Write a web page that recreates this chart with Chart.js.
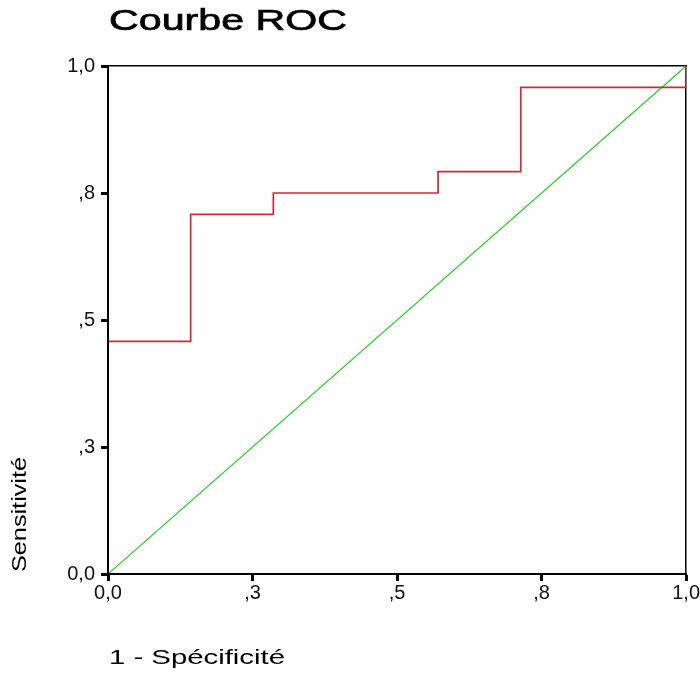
<!DOCTYPE html>
<html><head><meta charset="utf-8">
<script src="https://cdn.jsdelivr.net/npm/chart.js@4.4.0/dist/chart.umd.min.js"></script>
<style>html,body{margin:0;padding:0;background:#fff;}#wrap{width:700px;height:674px;}</style>
</head><body><div id="wrap"><canvas id="c" width="700" height="674"></canvas></div>
<script>
const chartTitle = 'Courbe ROC';
const xAxisTitle = '1 - Spécificité';
const yAxisTitle = 'Sensitivité';
const tickValues = [0, 0.25, 0.5, 0.75, 1];
const tickLabels = ['0,0', ',3', ',5', ',8', '1,0'];
const rocFpr = [0, 0, 0.143, 0.286, 0.571, 0.714, 1];
const rocTpr = [0, 0.458, 0.708, 0.75, 0.792, 0.958, 1];
const refFpr = [0, 1];
const refTpr = [0, 1];

const FONT = "'Liberation Sans', Arial, sans-serif";
const toPts = (xs, ys) => xs.map((x, i) => ({x: x, y: ys[i]}));
const tickCb = (v) => { const i = tickValues.indexOf(v); return i >= 0 ? tickLabels[i] : ''; };

const stretchedText = {
  id: 'stretchedText',
  afterDraw(chart, args, opts) {
    const ctx = chart.ctx;
    opts.items.forEach(it => {
      ctx.save();
      ctx.font = it.size + 'px ' + FONT;
      ctx.fillStyle = '#000';
      ctx.strokeStyle = '#000';
      ctx.textBaseline = 'alphabetic';
      ctx.textAlign = 'left';
      const w = ctx.measureText(it.text).width;
      ctx.translate(it.x, it.y);
      if (it.rotate) ctx.rotate(it.rotate);
      ctx.scale(it.width / w, 1);
      ctx.fillText(it.text, 0, 0);
      if (it.stroke) { ctx.lineWidth = it.stroke; ctx.strokeText(it.text, 0, 0); }
      ctx.restore();
    });
  }
};

new Chart(document.getElementById('c'), {
  type: 'scatter',
  data: {
    datasets: [
      { label: 'Ligne de référence', data: toPts(refFpr, refTpr), showLine: true,
        borderColor: '#2ccc2c', borderWidth: 1.2, pointRadius: 0, order: 2 },
      { label: 'ROC', data: toPts(rocFpr, rocTpr), showLine: true, stepped: 'before',
        borderColor: '#cc2a36', borderWidth: 1.7, pointRadius: 0, order: 1 }
    ]
  },
  options: {
    responsive: false,
    devicePixelRatio: 1,
    animation: false,
    layout: { padding: { top: 66, right: 13, left: 0, bottom: 0 } },
    plugins: {
      legend: { display: false },
      tooltip: { enabled: false },
      title: { display: false },
      stretchedText: { items: [
        { text: chartTitle, x: 109, y: 30, size: 29, width: 238, stroke: 0.7 },
        { text: xAxisTitle, x: 109, y: 664, size: 21, width: 176 },
        { text: yAxisTitle, x: 26, y: 572, size: 20, width: 115, rotate: -Math.PI / 2 }
      ] }
    },
    scales: {
      x: {
        type: 'linear', position: 'bottom', min: 0, max: 1,
        afterFit(s) { s.height = 100; },
        ticks: { stepSize: 0.25, callback: tickCb, autoSkip: false, maxRotation: 0,
          font: { family: FONT, size: 20 }, color: '#111', padding: 0 },
        grid: { drawOnChartArea: false, drawTicks: true, tickLength: 7, tickWidth: 3, tickColor: '#000', z: 1 },
        border: { display: true, color: '#000', width: 2, z: 1 }
      },
      y: {
        type: 'linear', position: 'left', min: 0, max: 1,
        afterFit(s) { s.width = 108; },
        ticks: { stepSize: 0.25, callback: tickCb, autoSkip: false,
          font: { family: FONT, size: 20 }, color: '#111', padding: 6 },
        grid: { drawOnChartArea: false, drawTicks: true, tickLength: 7, tickWidth: 3, tickColor: '#000', z: 1 },
        border: { display: true, color: '#000', width: 2, z: 1 }
      },
      x2: {
        type: 'linear', position: 'top', min: 0, max: 1,
        afterFit(s) { s.height = 0; },
        ticks: { display: false }, grid: { display: false, drawTicks: false },
        border: { display: true, color: '#000', width: 1.5 }
      },
      y2: {
        type: 'linear', position: 'right', min: 0, max: 1,
        afterFit(s) { s.width = 0; },
        ticks: { display: false }, grid: { display: false, drawTicks: false },
        border: { display: true, color: '#000', width: 1.5 }
      }
    }
  },
  plugins: [stretchedText]
});
</script>
</body></html>
